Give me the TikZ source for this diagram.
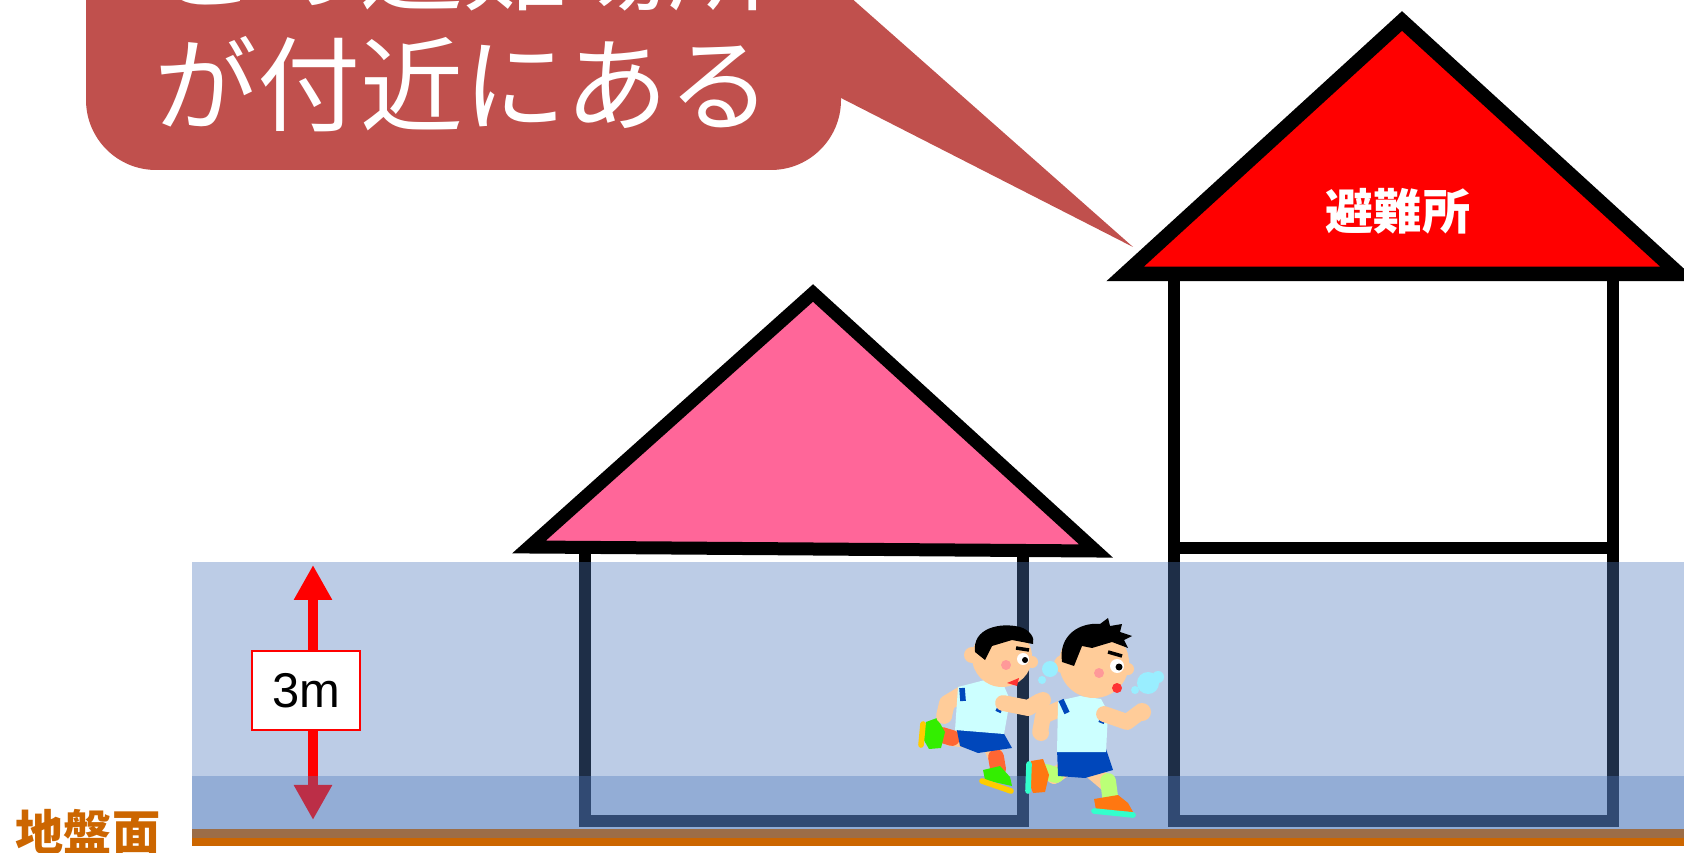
\documentclass[tikz,border=0pt]{standalone}
\usepackage{fontspec}
\setmainfont{Liberation Sans}
\newfontfamily\jpfont{Noto Sans CJK JP}
\usetikzlibrary{arrows.meta}

\definecolor{calloutred}{HTML}{C0504D}
\definecolor{roofpink}{HTML}{FF6699}
\definecolor{floodblue}{RGB}{80,122,188}
\definecolor{groundorange}{HTML}{CC6600}
\definecolor{skin}{HTML}{FFCC99}
\definecolor{shirtcyan}{HTML}{CCFFFF}
\definecolor{shortsblue}{HTML}{0047BB}
\definecolor{shoegreen}{HTML}{33EE00}
\definecolor{shoeorange}{HTML}{FF7711}
\definecolor{sockorange}{HTML}{FF6633}
\definecolor{socklime}{HTML}{BBFF77}
\definecolor{soleyellow}{HTML}{FFCC00}
\definecolor{solecyan}{HTML}{33FFCC}
\definecolor{cheekpink}{HTML}{FF9999}
\definecolor{mouthred}{HTML}{FF3333}
\definecolor{breath}{HTML}{99EEFF}

\begin{document}
\begin{tikzpicture}[
    >=Stealth,
    roof/.style={draw=black, line width=1.3mm, line join=miter},
    wall/.style={draw=black, line width=1.2mm},
    flood/.style={fill=floodblue, fill opacity=0.38},
    calltext/.style={text=white, anchor=base, inner sep=0pt, font=\jpfont\fontsize{29.3}{35}\selectfont},
    boldjp/.style={anchor=base, inner sep=0pt, font=\jpfont\bfseries\fontsize{13.7}{16}\selectfont},
    limb/.style={draw=skin, line width=4.5pt, line cap=round, line join=round},
    sock/.style={line width=4.5pt, line cap=round},
    sleeve/.style={draw=shortsblue, line width=1.6pt},
    sole/.style={line width=1.6pt, line cap=round},
]
\useasboundingbox (0,0) rectangle (16.84,8.52);
\clip (0,0) rectangle (16.84,8.52);

% === Speech bubble ===
\fill[calloutred, rounded corners=0.7cm] (0.86,6.82) rectangle (8.41,9.6);
\fill[calloutred] (8.0,8.63) -- (8.41,8.63) -- (11.33,6.05) -- (8.41,7.54) -- (8.0,7.54) -- cycle;
\node[calltext] (callA) at (4.63,8.49) {この避難場所};
\node[calltext] (callB) at (4.63,7.28) {が付近にある};

% === Ground ===
\fill[groundorange] (1.92,0.06) rectangle (16.84,0.23);

% === Small house ===
\draw[wall] (5.845,3.03) -- (5.845,0.31) -- (10.23,0.31) -- (10.23,3.03);
\filldraw[roof, fill=roofpink] (5.29,3.05) -- (8.13,5.59) -- (10.96,3.01) -- cycle;

% === Shelter ===
\draw[wall] (11.74,5.78) -- (11.74,0.31) -- (16.125,0.31) -- (16.125,5.78);
\draw[wall] (11.74,3.035) -- (16.125,3.035);
\filldraw[roof, line width=1.45mm, fill=red] (11.25,5.78) -- (14.02,8.31) -- (16.79,5.78) -- cycle;
\node[boldjp, text=white] (shelter) at (13.98,6.224) {避難所};

% === Flood water ===
\fill[flood] (1.92,0.14) rectangle (16.84,2.90);

% Height arrow
\coordinate (htop) at (3.13,2.87);
\coordinate (hbot) at (3.13,0.32);
\draw[red, line width=1mm, {Triangle[length=3.5mm, width=3.6mm]}-{Triangle[length=3.5mm, width=3.6mm]}] (htop) -- (hbot);

\fill[flood] (1.92,0.23) rectangle (16.84,0.76);

\node[draw=red, line width=0.7pt, fill=white, minimum width=1.08cm, minimum height=0.79cm,
      inner sep=0pt, font=\fontsize{13.9}{16}\selectfont] (depth) at (3.06,1.615) {3m};

% Ground label
\node[boldjp, text=groundorange] (ground) at (0.88,0.02) {地盤面};

% === Runners ===
\begin{scope}[yshift=8.52cm, x=0.1mm, y=-0.1mm]
    % back runner: legs
    \draw[limb] (970,740) -- (950,738);
    \draw[sock, draw=sockorange] (952,738) -- (942,735);
    \fill[shoegreen] (926,722) -- (937,718) -- (945,732) -- (941,748) -- (929,749) -- (922,737) -- cycle;
    \draw[sole, draw=soleyellow] (923,724) -- (921,745);
    \draw[limb] (992,748) -- (996,758);
    \draw[sock, draw=sockorange] (996,757) -- (998,769);
    \fill[shoegreen] (983,770) -- (1000,766) -- (1010,777) -- (1012,786) -- (985,780) -- cycle;
    \draw[sole, draw=soleyellow] (982,781) -- (1011,791);
    % arm, body
    \draw[limb] (962,694) -- (947,703) -- (944,716);
    \fill[skin] (945,716) circle (7);
    \fill[shortsblue] (956,726) -- (1003,732) -- (1012,748) -- (978,753) -- (960,746) -- cycle;
    \fill[shirtcyan] (958,687) -- (985,680) -- (1004,686) -- (1010,700) -- (1004,734) -- (955,730) -- cycle;
    \draw[sleeve] (962,688) -- (963,701);
    \draw[sleeve] (1004,699) -- (998,712);
    \draw[limb] (1003,703) -- (1028,708) -- (1040,701);
    \fill[skin] (1043,700) circle (8);
    % head
    \fill[skin] (972,655) circle (8);
    \fill[skin] (1002,657) circle (30);
    \fill[skin] (1032,662) circle (6);
    \fill[black] (975,652) .. controls (972,628) and (1000,622) .. (1020,627)
        .. controls (1030,630) and (1035,638) .. (1033,644) -- (1012,640) -- (992,646) -- (985,660) -- cycle;
    \fill[white] (1023,659) circle (6);
    \fill[black] (1025,660) circle (3);
    \draw[black, line width=1pt] (1016,648) -- (1029,650);
    \fill[cheekpink] (1006,665) circle (5);
    \fill[mouthred] (1007,683) -- (1019,678) -- (1017,686) -- cycle;

    % front runner: legs
    \draw[limb] (1066,768) -- (1054,776);
    \draw[sock, draw=socklime] (1056,775) -- (1046,772);
    \fill[shoeorange] (1031,761) -- (1043,759) -- (1049,775) -- (1045,792) -- (1033,793) -- (1028,779) -- cycle;
    \draw[sole, draw=solecyan] (1029,764) -- (1028,791);
    \draw[limb] (1093,772) -- (1106,783);
    \draw[sock, draw=socklime] (1108,781) -- (1110,796);
    \fill[shoeorange] (1094,799) -- (1118,795) -- (1128,803) -- (1133,812) -- (1096,810) -- cycle;
    \draw[sole, draw=solecyan] (1094,811) -- (1133,815);
    % arm, body
    \draw[limb] (1062,708) -- (1043,716) -- (1040,732);
    \fill[skin] (1041,733) circle (8);
    \fill[shortsblue] (1057,749) -- (1106,749) -- (1113,770) -- (1085,778) -- (1058,776) -- cycle;
    \fill[shirtcyan] (1058,701) -- (1080,696) -- (1101,699) -- (1108,712) -- (1106,752) -- (1057,752) -- cycle;
    \draw[sleeve] (1061,700) -- (1067,713);
    \draw[sleeve] (1107,708) -- (1101,723);
    \draw[limb] (1104,714) -- (1127,722) -- (1139,713);
    \fill[skin] (1142,712) circle (9);
    % head
    \fill[skin] (1063,664) circle (9);
    \fill[skin] (1094,663) circle (35);
    \fill[skin] (1128,669) circle (6);
    \fill[black] (1062,662) .. controls (1058,635) and (1080,622) .. (1100,624) -- (1108,618) -- (1110,626)
        -- (1122,624) -- (1120,632) -- (1132,636) -- (1124,640) -- (1128,648) -- (1112,642)
        -- (1092,648) -- (1082,646) -- (1074,666) -- cycle;
    \fill[white] (1117,666) circle (7);
    \fill[black] (1119,667) circle (3.5);
    \draw[black, line width=1pt] (1108,652) -- (1122,656);
    \fill[cheekpink] (1099,673) circle (5);
    \fill[mouthred] (1117,688) circle (5);
    % puffs of breath
    \fill[breath] (1050,669) circle (8);
    \fill[breath] (1042,680) circle (4);
    \fill[breath] (1148,683) circle (11);
    \fill[breath] (1158,677) circle (6);
    \fill[breath] (1135,690) circle (4);
\end{scope}

\end{tikzpicture}
\end{document}
